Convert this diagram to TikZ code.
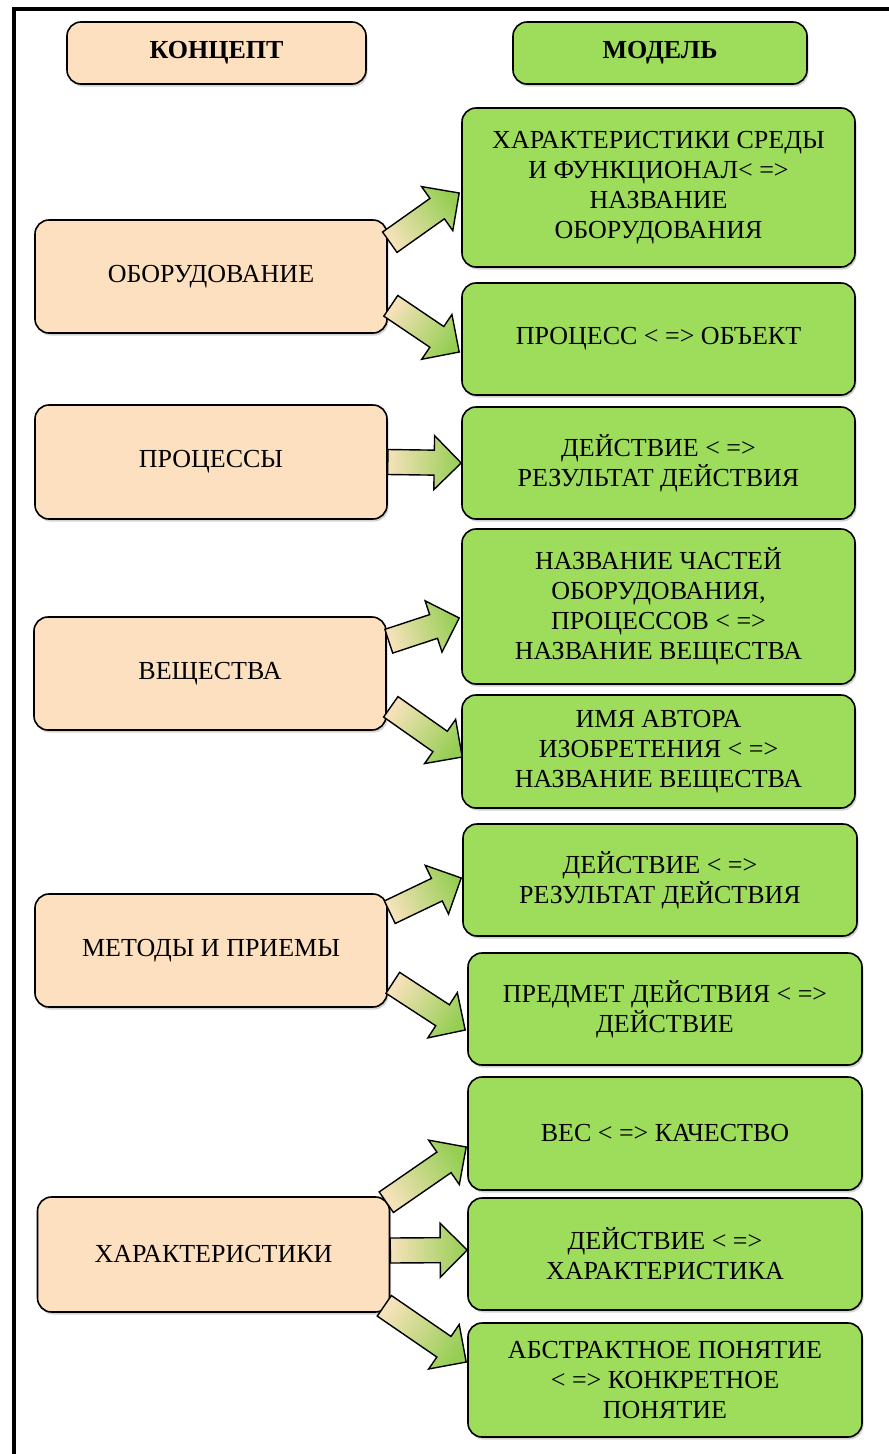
\documentclass[tikz,border=0pt]{standalone}
\usepackage{fontspec}
\setmainfont{Liberation Serif}
\usetikzlibrary{calc,shadows}

\definecolor{peach}{RGB}{252,224,192}
\definecolor{grass}{RGB}{158,220,92}
\definecolor{arrcream}{RGB}{246,226,186}
\definecolor{arrgreen}{RGB}{150,206,84}

\tikzset{
  box/.style={draw=black, line width=1.6pt, rounded corners=14pt, align=center,
    inner sep=0pt, font=\fontsize{26}{30}\selectfont,
    drop shadow={shadow xshift=1.5pt, shadow yshift=-2.5pt, opacity=0.35}},
  concept/.style={box, fill=peach, minimum width=352pt, minimum height=113pt},
  model/.style={box, fill=grass, minimum width=393pt, minimum height=112pt},
  header/.style={box, minimum height=62pt, font=\fontsize{26}{30}\selectfont\bfseries},
  arrowbody/.style={draw=black, line width=1.4pt, line join=miter,
    top color=arrgreen, bottom color=arrcream}
}

% толстая стрелка от #1 к #2
\newcommand{\blockarrow}[2]{%
  \coordinate (at) at #1;
  \coordinate (ah) at #2;
  \coordinate (ab) at ($(ah)!27pt!(at)$);
  \path let \p1=(at), \p2=(ah), \n1={atan2(\y2-\y1,\x2-\x1)-90} in
    \pgfextra{\xdef\arrang{\n1}};
  \draw[arrowbody, shading angle=\arrang]
    ($(at)!12.5pt!90:(ah)$) -- ($(ab)!12.5pt!90:(ah)$) -- ($(ab)!27pt!90:(ah)$) -- (ah)
    -- ($(ab)!27pt!-90:(ah)$) -- ($(ab)!12.5pt!-90:(ah)$) -- ($(at)!12.5pt!-90:(ah)$) -- cycle;}

\begin{document}
\begin{tikzpicture}[x=1pt,y=1pt]
  \useasboundingbox (0,0) rectangle (889,-1454);
  % Рамка
  \draw [line width=4pt] (13.5,-1454) -- (13.5,-9) -- (889,-9);

  % Заголовки
  \node[header, fill=peach, minimum width=299pt] (hconc) at (216.5,-53) {КОНЦЕПТ};
  \node[header, fill=grass, minimum width=294pt] (hmod) at (660,-53) {МОДЕЛЬ};

  % Концепты
  \node[concept] (obor) at (211,-276.5) {ОБОРУДОВАНИЕ};
  \node[concept, minimum height=114pt] (proc) at (211,-462) {ПРОЦЕССЫ};
  \node[concept] (vesh) at (210,-673.5) {ВЕЩЕСТВА};
  \node[concept] (metod) at (211,-950.5) {МЕТОДЫ И ПРИЕМЫ};
  \node[concept, minimum height=115pt] (harak) at (213.5,-1254.5) {ХАРАКТЕРИСТИКИ};

  % Модели
  \node[model, minimum height=159pt] (m1) at (658.5,-187.5) {ХАРАКТЕРИСТИКИ СРЕДЫ\\И ФУНКЦИОНАЛ< =>\\НАЗВАНИЕ\\ОБОРУДОВАНИЯ};
  \node[model] (m2) at (658.5,-339) {ПРОЦЕСС < => ОБЪЕКТ};
  \node[model] (m3) at (658.5,-463) {ДЕЙСТВИЕ < =>\\РЕЗУЛЬТАТ ДЕЙСТВИЯ};
  \node[model, minimum height=155pt] (m4) at (658.5,-606.5) {НАЗВАНИЕ ЧАСТЕЙ\\ОБОРУДОВАНИЯ,\\ПРОЦЕССОВ < =>\\НАЗВАНИЕ ВЕЩЕСТВА};
  \node[model, minimum height=113pt] (m5) at (658.5,-751.5) {ИМЯ АВТОРА\\ИЗОБРЕТЕНИЯ < =>\\НАЗВАНИЕ ВЕЩЕСТВА};
  \node[model, minimum width=394pt] (m6) at (660,-880) {ДЕЙСТВИЕ < =>\\РЕЗУЛЬТАТ ДЕЙСТВИЯ};
  \node[model, minimum width=394pt] (m7) at (665,-1009) {ПРЕДМЕТ ДЕЙСТВИЯ < =>\\ДЕЙСТВИЕ};
  \node[model, minimum width=394pt, minimum height=113pt] (m8) at (665,-1133.5) {ВЕС < => КАЧЕСТВО};
  \node[model, minimum width=394pt] (m9) at (665,-1254) {ДЕЙСТВИЕ < =>\\ХАРАКТЕРИСТИКА};
  \node[model, minimum width=394pt, minimum height=114pt] (m10) at (665,-1380) {АБСТРАКТНОЕ ПОНЯТИЕ\\< => КОНКРЕТНОЕ\\ПОНЯТИЕ};

  % Стрелки
  \blockarrow{([shift={(2pt,-23pt)}]obor.north east)}{([shift={(-2pt,-5.5pt)}]m1.west)}
  \blockarrow{([shift={(3pt,28pt)}]obor.south east)}{([shift={(-2pt,-13pt)}]m2.west)}
  \blockarrow{(proc.east)}{(m3.west)}
  \blockarrow{([shift={(2pt,-25pt)}]vesh.north east)}{([shift={(-2pt,-11.5pt)}]m4.west)}
  \blockarrow{([shift={(4pt,24pt)}]vesh.south east)}{([shift={(1pt,-5.5pt)}]m5.west)}
  \blockarrow{([shift={(2pt,-19pt)}]metod.north east)}{([shift={(-1pt,2pt)}]m6.west)}
  \blockarrow{([shift={(5pt,25pt)}]metod.south east)}{([shift={(-2pt,-21pt)}]m7.west)}
  \blockarrow{([shift={(-4pt,-6pt)}]harak.north east)}{([shift={(-1pt,-13.5pt)}]m8.west)}
  \blockarrow{([yshift=4pt]harak.east)}{([yshift=4pt]m9.west)}
  \blockarrow{([shift={(-6pt,7pt)}]harak.south east)}{([shift={(-1pt,18pt)}]m10.west)}
\end{tikzpicture}
\end{document}
